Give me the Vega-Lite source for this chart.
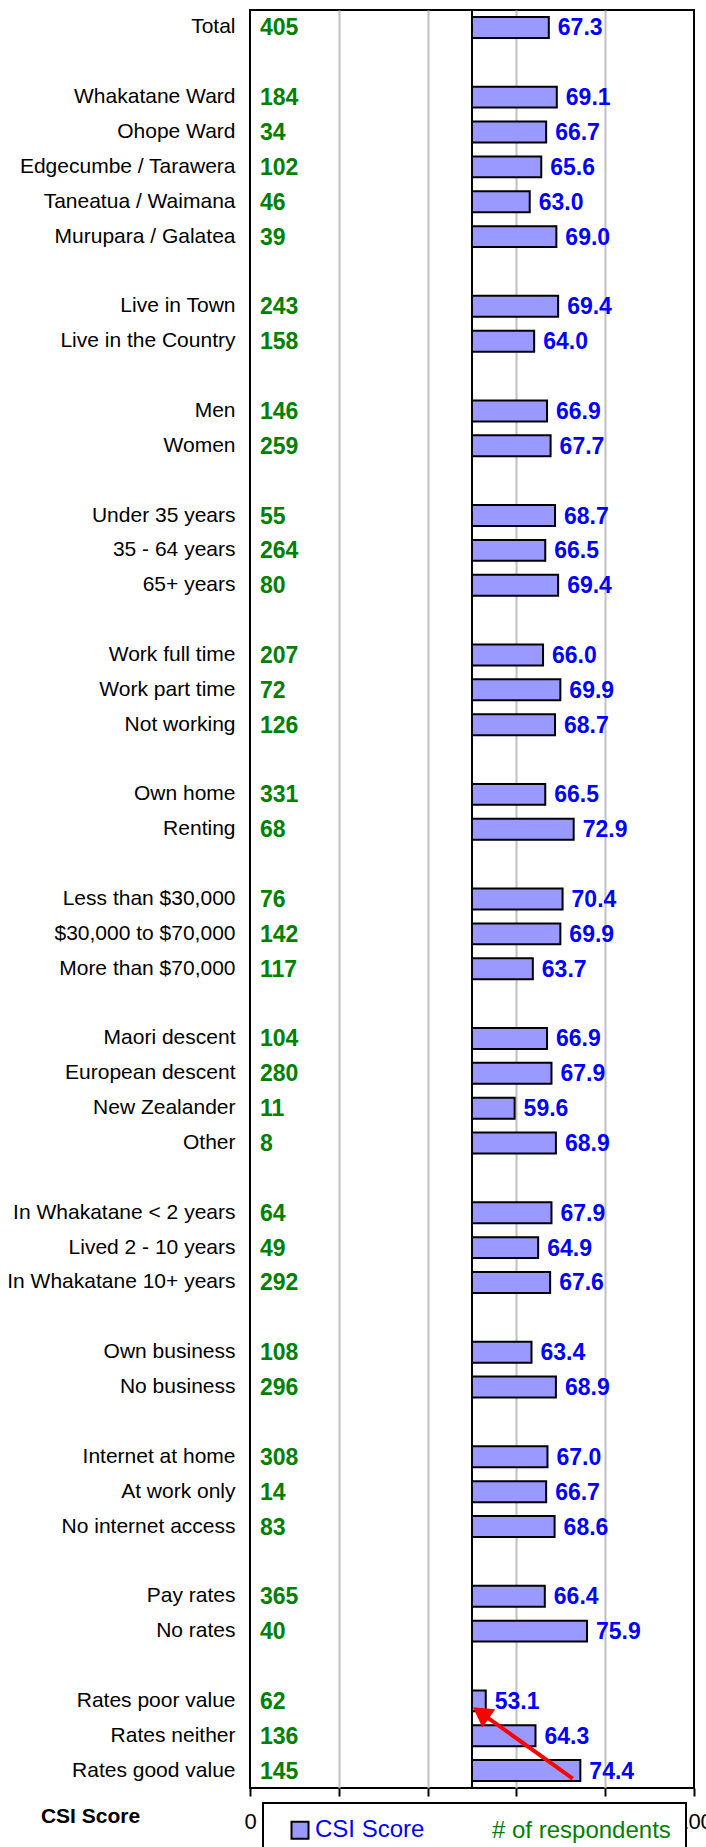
{
  "$schema": "https://vega.github.io/schema/vega-lite/v6.json",
  "width": 444,
  "height": 1778,
  "autosize": {"type": "none"},
  "padding": {"left": 250, "top": 10, "right": 12, "bottom": 59},
  "background": "white",
  "config": {
    "font": "Liberation Sans",
    "view": {"stroke": "black", "strokeWidth": 2}
  },
  "datasets": {
    "rows": [
      {"cat": "Total", "n": 405, "csi": 67.3},
      {"cat": "Whakatane Ward", "n": 184, "csi": 69.1},
      {"cat": "Ohope Ward", "n": 34, "csi": 66.7},
      {"cat": "Edgecumbe / Tarawera", "n": 102, "csi": 65.6},
      {"cat": "Taneatua / Waimana", "n": 46, "csi": 63.0},
      {"cat": "Murupara / Galatea", "n": 39, "csi": 69.0},
      {"cat": "Live in Town", "n": 243, "csi": 69.4},
      {"cat": "Live in the Country", "n": 158, "csi": 64.0},
      {"cat": "Men", "n": 146, "csi": 66.9},
      {"cat": "Women", "n": 259, "csi": 67.7},
      {"cat": "Under 35 years", "n": 55, "csi": 68.7},
      {"cat": "35 - 64 years", "n": 264, "csi": 66.5},
      {"cat": "65+ years", "n": 80, "csi": 69.4},
      {"cat": "Work full time", "n": 207, "csi": 66.0},
      {"cat": "Work part time", "n": 72, "csi": 69.9},
      {"cat": "Not working", "n": 126, "csi": 68.7},
      {"cat": "Own home", "n": 331, "csi": 66.5},
      {"cat": "Renting", "n": 68, "csi": 72.9},
      {"cat": "Less than $30,000", "n": 76, "csi": 70.4},
      {"cat": "$30,000 to $70,000", "n": 142, "csi": 69.9},
      {"cat": "More than $70,000", "n": 117, "csi": 63.7},
      {"cat": "Maori descent", "n": 104, "csi": 66.9},
      {"cat": "European descent", "n": 280, "csi": 67.9},
      {"cat": "New Zealander", "n": 11, "csi": 59.6},
      {"cat": "Other", "n": 8, "csi": 68.9},
      {"cat": "In Whakatane < 2 years", "n": 64, "csi": 67.9},
      {"cat": "Lived 2 - 10 years", "n": 49, "csi": 64.9},
      {"cat": "In Whakatane 10+ years", "n": 292, "csi": 67.6},
      {"cat": "Own business", "n": 108, "csi": 63.4},
      {"cat": "No business", "n": 296, "csi": 68.9},
      {"cat": "Internet at home", "n": 308, "csi": 67.0},
      {"cat": "At work only", "n": 14, "csi": 66.7},
      {"cat": "No internet access", "n": 83, "csi": 68.6},
      {"cat": "Pay rates", "n": 365, "csi": 66.4},
      {"cat": "No rates", "n": 40, "csi": 75.9},
      {"cat": "Rates poor value", "n": 62, "csi": 53.1},
      {"cat": "Rates neither", "n": 136, "csi": 64.3},
      {"cat": "Rates good value", "n": 145, "csi": 74.4}
    ],
    "arrow": [
      {"from": "Rates good value", "from_x": 72.7, "to": "Rates poor value", "to_x": 50.2}
    ],
    "base": [{"v": 50}]
  },
  "layer": [
    {
      "data": {"name": "rows"},
      "mark": {"type": "bar", "stroke": "black", "strokeWidth": 2},
      "encoding": {
        "y": {
          "field": "cat",
          "type": "nominal",
          "scale": {
            "type": "band",
            "paddingInner": 0.4,
            "paddingOuter": 0.2,
            "domain": ["Total","_gap1","Whakatane Ward","Ohope Ward","Edgecumbe / Tarawera","Taneatua / Waimana","Murupara / Galatea","_gap2","Live in Town","Live in the Country","_gap3","Men","Women","_gap4","Under 35 years","35 - 64 years","65+ years","_gap5","Work full time","Work part time","Not working","_gap6","Own home","Renting","_gap7","Less than $30,000","$30,000 to $70,000","More than $70,000","_gap8","Maori descent","European descent","New Zealander","Other","_gap9","In Whakatane < 2 years","Lived 2 - 10 years","In Whakatane 10+ years","_gap10","Own business","No business","_gap11","Internet at home","At work only","No internet access","_gap12","Pay rates","No rates","_gap13","Rates poor value","Rates neither","Rates good value"]
          },
          "axis": {
            "title": null,
            "ticks": false,
            "domain": false,
            "grid": false,
            "labelPadding": 15,
            "labelFontSize": 21,
            "labelColor": "black",
            "labelLimit": 400,
            "labelExpr": "slice(datum.value, 0, 4) == '_gap' ? '' : datum.value"
          }
        },
        "x": {
          "field": "csi",
          "type": "quantitative",
          "scale": {"domain": [0, 100], "nice": false, "zero": false},
          "axis": {
            "values": [0, 20, 40, 60, 80, 100],
            "grid": true,
            "gridColor": {"condition": {"test": "datum.value == 0 || datum.value == 100", "value": "transparent"}, "value": "#c0c0c0"},
            "gridWidth": 2,
            "domain": false,
            "ticks": true,
            "tickSize": 8,
            "tickWidth": 2,
            "tickColor": "black",
            "labelFontSize": 22,
            "labelColor": "black",
            "labelPadding": 15,
            "labelFlush": false,
            "title": "CSI Score",
            "titleFontSize": 21,
            "titleFontWeight": "bold",
            "titleColor": "black",
            "titleX": -160,
            "titleY": 28,
            "titleAlign": "center",
            "titleBaseline": "middle",
            "zindex": 0
          }
        },
        "x2": {"datum": 50},
        "color": {
          "datum": "CSI Score",
          "type": "nominal",
          "scale": {"domain": ["CSI Score", "# of respondents"], "range": ["#9999FF", "rgba(255,255,255,0)"]},
          "legend": {
            "orient": "none",
            "legendX": 13,
            "legendY": 1793,
            "direction": "horizontal",
            "title": null,
            "padding": 15,
            "fillColor": "white",
            "strokeColor": "black",
            "symbolType": "square",
            "symbolSize": 289,
            "symbolOffset": 10,
            "symbolStrokeWidth": 2,
            "labelOffset": 3,
            "columnPadding": 30,
            "labelFontSize": 24,
            "labelLimit": 400,
            "zindex": 3,
            "encoding": {
              "legend": {"strokeWidth": {"value": 2}},
              "symbols": {
                "stroke": {"condition": {"test": "datum.value === 'CSI Score'", "value": "black"}, "value": "transparent"},
                "opacity": {"condition": {"test": "datum.value === 'CSI Score'", "value": 1}, "value": 0}
              },
              "labels": {
                "fill": {"condition": {"test": "datum.value === 'CSI Score'", "value": "#0000FF"}, "value": "#008000"}
              }
            }
          }
        }
      }
    },
    {
      "data": {"name": "base"},
      "mark": {"type": "rule", "color": "black", "strokeWidth": 2},
      "encoding": {"x": {"field": "v", "type": "quantitative"}}
    },
    {
      "data": {"name": "rows"},
      "mark": {"type": "text", "align": "left", "baseline": "middle", "dx": 9, "dy": 1, "fontSize": 23, "fontWeight": "bold", "color": "#0000FF"},
      "encoding": {
        "y": {"field": "cat", "type": "nominal"},
        "x": {"field": "csi", "type": "quantitative"},
        "text": {"field": "csi", "type": "quantitative", "format": ".1f"}
      }
    },
    {
      "data": {"name": "rows"},
      "mark": {"type": "text", "align": "left", "baseline": "middle", "dx": 10, "dy": 1, "fontSize": 23, "fontWeight": "bold", "color": "#008000"},
      "encoding": {
        "y": {"field": "cat", "type": "nominal"},
        "x": {"datum": 0},
        "text": {"field": "n", "type": "quantitative"}
      }
    },
    {
      "data": {"name": "arrow"},
      "mark": {"type": "rule", "color": "#FF0000", "strokeWidth": 4, "yOffset": 8, "x2Offset": 8, "y2Offset": 12},
      "encoding": {
        "x": {"field": "from_x", "type": "quantitative"},
        "x2": {"field": "to_x"},
        "y": {"field": "from", "type": "nominal"},
        "y2": {"field": "to"}
      }
    },
    {
      "data": {"name": "arrow"},
      "mark": {"type": "point", "shape": "triangle-up", "filled": true, "color": "#FF0000", "opacity": 1, "size": 500, "angle": 305, "xOffset": 8, "yOffset": 12},
      "encoding": {
        "x": {"field": "to_x", "type": "quantitative"},
        "y": {"field": "to", "type": "nominal"}
      }
    }
  ]
}
